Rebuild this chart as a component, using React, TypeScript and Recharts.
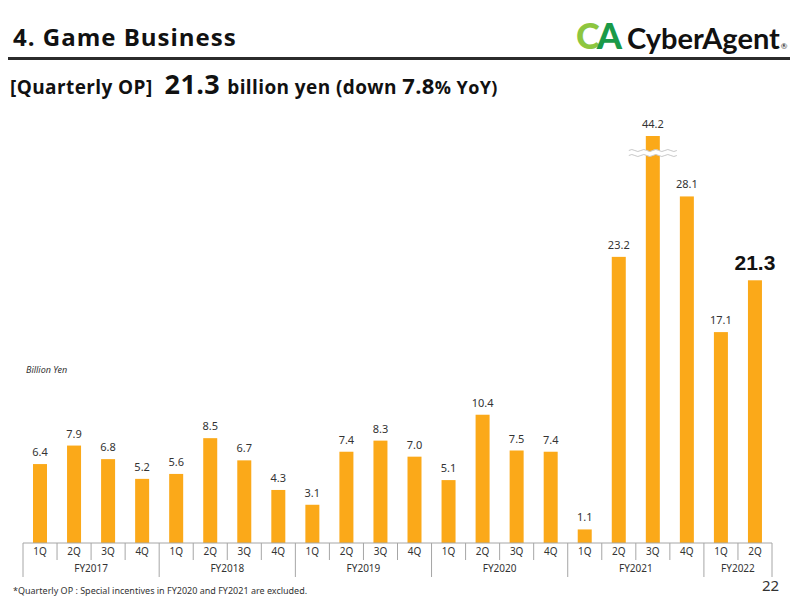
import { BarChart, Bar, XAxis, YAxis, LabelList } from "recharts";

const QUARTERS = [
  "1Q", "2Q", "3Q", "4Q",
  "1Q", "2Q", "3Q", "4Q",
  "1Q", "2Q", "3Q", "4Q",
  "1Q", "2Q", "3Q", "4Q",
  "1Q", "2Q", "3Q", "4Q",
  "1Q", "2Q",
];

const FISCAL_YEARS = ["FY2017", "FY2018", "FY2019", "FY2020", "FY2021", "FY2022"];
const QUARTERS_PER_YEAR = [4, 4, 4, 4, 4, 2];

// quarterly operating profit, billion yen
const OP_VALUES = [
  6.4, 7.9, 6.8, 5.2,
  5.6, 8.5, 6.7, 4.3,
  3.1, 7.4, 8.3, 7.0,
  5.1, 10.4, 7.5, 7.4,
  1.1, 23.2, 44.2, 28.1,
  17.1, 21.3,
];

// bars taller than this are drawn cut with a wavy break
const BREAK_AT = 33;

const CHART_W = 800;
const CHART_H = 600;
const MARGIN = { top: 136, right: 28, bottom: 22, left: 23 };
const BAND = (CHART_W - MARGIN.left - MARGIN.right) / QUARTERS.length;

const BAR_COLOR = "#fba919";
const TEXT = "#333333";
const LINE = "#a6a6a6";
const FONT = "'Noto Sans', 'Open Sans', sans-serif";
const HEAD_FONT = "'Open Sans', sans-serif";

const rows = (() => {
  const out: any[] = [];
  let i = 0;
  FISCAL_YEARS.forEach((fy, g) => {
    for (let k = 0; k < QUARTERS_PER_YEAR[g]; k++) {
      out.push({
        q: QUARTERS[i],
        fy,
        groupSize: QUARTERS_PER_YEAR[g],
        first: k === 0,
        value: OP_VALUES[i],
        shown: Math.min(OP_VALUES[i], BREAK_AT),
      });
      i++;
    }
  });
  return out;
})();

function wavePath(x0: number, x1: number, yc: number, amp: number) {
  const step = 6;
  let d = `M${x0},${yc}`;
  let up = true;
  for (let x = x0; x < x1; x += step) {
    d += ` Q${x + step / 2},${yc + (up ? -amp : amp)} ${x + step},${yc}`;
    up = !up;
  }
  return d;
}

function BrokenBar(props: any) {
  const { x, y, width, height, payload } = props;
  const broken = payload && payload.value > BREAK_AT;
  const yc = y + 17;
  const x0 = x - 17;
  const x1 = x + width + 17;
  return (
    <g>
      <rect x={x} y={y} width={width} height={height} fill={BAR_COLOR} />
      {broken && (
        <g fill="none">
          <path d={wavePath(x0, x1, yc, 2)} stroke="#fff" strokeWidth={5} />
          <path d={wavePath(x0, x1, yc - 2.5, 2)} stroke="#c8c8c8" strokeWidth={1} />
          <path d={wavePath(x0, x1, yc + 2.5, 2)} stroke="#c8c8c8" strokeWidth={1} />
        </g>
      )}
    </g>
  );
}

function ValueLabel(props: any) {
  const vb = props.viewBox || props;
  const { x, y, width } = vb;
  const last = props.index === OP_VALUES.length - 1;
  return (
    <text
      x={x + width / 2}
      y={y - (last ? 10 : 8)}
      textAnchor="middle"
      fill={last ? "#111" : TEXT}
      fontSize={last ? 21 : 11}
      fontWeight={last ? 700 : 400}
      fontFamily={last ? "Arial, 'Liberation Sans', sans-serif" : FONT}
    >
      {Number(props.value).toFixed(1)}
    </text>
  );
}

function QuarterTick(props: any) {
  const { x, y, payload } = props;
  const i = payload.index ?? props.index;
  const row = rows[i];
  if (!row) return null;
  const left = x - BAND / 2;
  const right = x + BAND / 2;
  return (
    <g>
      <line x1={left} y1={y} x2={left} y2={y + (row.first ? 34 : 17)} stroke={LINE} />
      {i === rows.length - 1 && (
        <line x1={right} y1={y} x2={right} y2={y + 34} stroke={LINE} />
      )}
      <text x={x} y={y + 12} textAnchor="middle" fontSize={10} fill={TEXT} fontFamily={FONT}>
        {row.q}
      </text>
      {row.first && (
        <text
          x={left + (row.groupSize * BAND) / 2}
          y={y + 29}
          textAnchor="middle"
          fontSize={10}
          fill={TEXT}
          fontFamily={FONT}
        >
          {row.fy}
        </text>
      )}
    </g>
  );
}

export default function App() {
  return (
    <div
      style={{
        position: "absolute",
        left: 0,
        top: 0,
        width: CHART_W,
        height: CHART_H,
        background: "#fff",
        overflow: "hidden",
        fontFamily: HEAD_FONT,
        color: "#111",
      }}
    >
      <BarChart width={CHART_W} height={CHART_H} data={rows} margin={MARGIN} barSize={14}>
        <XAxis
          dataKey="q"
          height={35}
          interval={0}
          tickSize={0}
          tickMargin={0}
          tickLine={false}
          axisLine={{ stroke: LINE }}
          tick={<QuarterTick />}
        />
        <YAxis hide domain={[0, BREAK_AT]} allowDataOverflow />
        <Bar dataKey="shown" fill={BAR_COLOR} isAnimationActive={false} shape={<BrokenBar />}>
          <LabelList dataKey="value" content={<ValueLabel />} />
        </Bar>
      </BarChart>

      <div
        style={{
          position: "absolute",
          left: 13,
          top: 20,
          fontSize: 24,
          fontWeight: 700,
          letterSpacing: 1,
          lineHeight: "normal",
          whiteSpace: "nowrap",
        }}
      >
        4. Game Business
      </div>

      <div
        style={{
          position: "absolute",
          left: 576,
          top: 13,
          display: "flex",
          alignItems: "baseline",
          fontFamily: "Lato, sans-serif",
        }}
      >
        <span style={{ fontSize: 36, fontWeight: 900, color: "#8dc63f", letterSpacing: -3 }}>C</span>
        <span style={{ fontSize: 36, fontWeight: 900, color: "#1a9a48" }}>A</span>
        <span style={{ fontSize: 29, fontWeight: 700, color: "#111", marginLeft: 5 }}>CyberAgent</span>
        <span style={{ fontSize: 8, color: "#111", marginLeft: 1 }}>®</span>
      </div>

      <div
        style={{
          position: "absolute",
          left: 8,
          top: 57,
          width: 782,
          height: 3,
          background: "#2b2b2b",
        }}
      />

      <div
        style={{
          position: "absolute",
          left: 10,
          top: 65,
          fontWeight: 700,
          whiteSpace: "nowrap",
          display: "flex",
          alignItems: "baseline",
          letterSpacing: 0.4,
        }}
      >
        <span style={{ fontSize: 19 }}>[Quarterly OP]</span>
        <span style={{ fontSize: 27, marginLeft: 12 }}>21.3</span>
        <span style={{ fontSize: 19, marginLeft: 7 }}>billion yen (down&nbsp;</span>
        <span style={{ fontSize: 22 }}>7.8</span>
        <span style={{ fontSize: 18 }}>% YoY)</span>
      </div>

      <div
        style={{
          position: "absolute",
          left: 26,
          top: 363,
          fontSize: 9,
          fontStyle: "italic",
          color: TEXT,
          fontFamily: FONT,
        }}
      >
        Billion Yen
      </div>

      <div
        style={{
          position: "absolute",
          left: 13,
          top: 584,
          fontSize: 9,
          color: TEXT,
          fontFamily: FONT,
        }}
      >
        *Quarterly OP : Special incentives in FY2020 and FY2021 are excluded.
      </div>

      <div
        style={{
          position: "absolute",
          left: 762,
          top: 575,
          fontSize: 15,
          color: TEXT,
          fontFamily: FONT,
        }}
      >
        22
      </div>
    </div>
  );
}
